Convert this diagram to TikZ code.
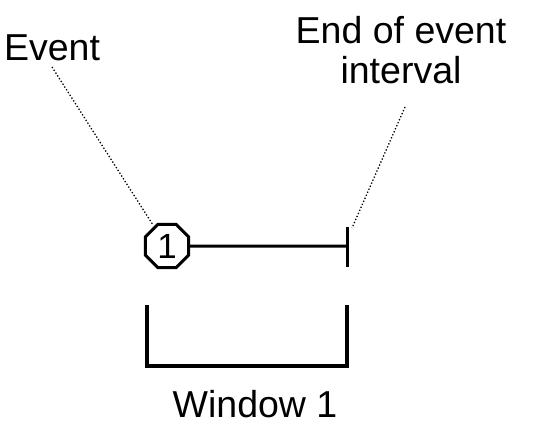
\documentclass[tikz,border=0pt]{standalone}
\usepackage{fontspec}
\setmainfont{Liberation Sans}
\usetikzlibrary{shapes.geometric}
\begin{document}
\begin{tikzpicture}[x=1pt,y=-1pt,
  lbl/.style={font=\fontsize{37.5}{40}\selectfont, inner sep=0pt, align=center},
  leader/.style={line width=1.3pt, dotted},
  thick line/.style={line width=3pt},
  octa/.style={regular polygon, regular polygon sides=8, draw, line width=3pt,
     minimum size=47pt, inner sep=0pt, font=\fontsize{35}{35}\selectfont}]
\useasboundingbox (0,0) rectangle (534,428);
\node[lbl, anchor=base] (ev) at (52,60) {Event};
\node[lbl, anchor=base] (endl) at (401,83) {End of event\\interval};
\node[octa] (oct) at (167,246) {1};
\coordinate (tickc) at (347,246);
\coordinate (ticktop) at (347,227);
\coordinate (tickbot) at (347,267);
\draw[thick line] (oct.east) -- (tickc);
\draw[thick line] (ticktop) -- (tickbot);
\coordinate (evs) at (52,67);
\coordinate (evt) at (153,225);
\draw[leader] (evs) -- (evt);
\coordinate (ens) at (405,107);
\coordinate (ent) at (352,228);
\draw[leader] (ens) -- (ent);
\coordinate (b1) at (147,305);
\coordinate (b2) at (147,366);
\coordinate (b3) at (347,366);
\coordinate (b4) at (347,305);
\draw[line width=4pt] (b1) -- (b2) -- (b3) -- (b4);
\node[lbl, anchor=base] (win) at (255,417) {Window 1};
\end{tikzpicture}
\end{document}
